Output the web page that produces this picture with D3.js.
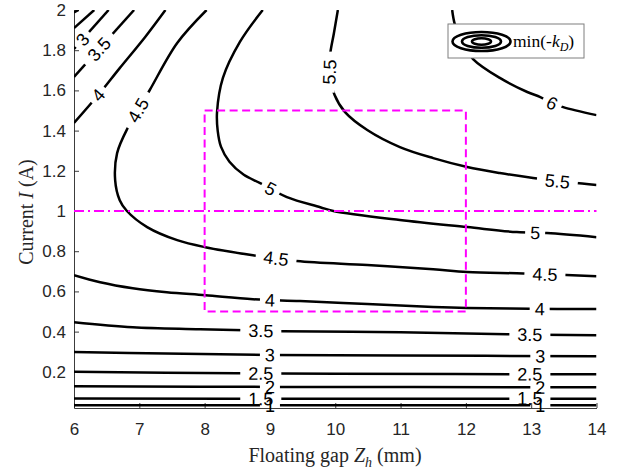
<!DOCTYPE html>
<html>
<head>
<meta charset="utf-8">
<script src="https://cdn.jsdelivr.net/npm/d3@7"></script>
<style>
  body { margin: 0; background: #fff; }
</style>
</head>
<body>
<svg id="chart" width="619" height="475"></svg>
<script>
// contour branches, points are [Z_h (mm), I (A)]
const c1     = [[6,0.034],[10,0.034],[14,0.034]];
const c15    = [[6,0.067],[10,0.066],[14,0.066]];
const c2     = [[6,0.128],[9,0.125],[14,0.123]];
const c2top  = [[6,1.988],[6.07,2.0]];
const c25    = [[6,0.200],[8.5,0.193],[10,0.190],[14,0.188]];
const c25top = [[6,1.910],[6.31,2.0]];
const c3     = [[6,0.299],[7.4,0.291],[9,0.284],[11,0.281],[14,0.278]];
const c3top  = [[6,1.806],[6.53,2.0]];
const c35    = [[6,0.447],[6.9,0.422],[7.93,0.412],[9.19,0.402],[11,0.397],[12.63,0.387],[14,0.382]];
const c35top = [[6,1.667],[6.92,2.0]];
const c4     = [[6,0.681],[6.4,0.646],[6.9,0.616],[7.42,0.596],[8.01,0.581],[8.74,0.561],[9.46,0.552],
                [10.49,0.537],[11.5,0.522],[12.02,0.517],[12.98,0.514],[14,0.512]];
const c4top  = [[6,1.438],[6.37,1.577],[6.7,1.711],[7.09,1.866],[7.4,2.0]];
const c45    = [[8.03,2.0],[7.58,1.836],[7.16,1.602],[6.98,1.502],[6.83,1.418],[6.66,1.288],[6.63,1.154],
                [6.70,1.054],[6.81,1.0],[7.12,0.920],[7.58,0.855],[8.01,0.820],[8.74,0.780],[9.41,0.751],
                [10.49,0.731],[11.5,0.710],[12.02,0.697],[12.88,0.689],[14,0.676]];
const c5     = [[8.89,2.0],[8.54,1.841],[8.28,1.662],[8.19,1.492],[8.20,1.40],[8.25,1.32],[8.38,1.245],
                [8.6,1.180],[8.85,1.139],[9.26,1.069],[9.77,1.019],[9.97,1.0],[10.99,0.955],[12.02,0.920],
                [12.78,0.895],[13.24,0.890],[14,0.870]];
const c55    = [[10.04,2.0],[9.98,1.886],[9.92,1.776],[9.91,1.691],[9.99,1.577],[10.15,1.492],[10.49,1.403],
                [10.99,1.318],[11.5,1.263],[12.02,1.219],[12.52,1.189],[13.03,1.164],[13.4,1.149],[14,1.129]];
const c6     = [[11.79,2.0],[11.83,1.930],[11.94,1.841],[12.11,1.756],[12.52,1.662],[12.94,1.592],
                [13.14,1.567],[13.32,1.537],[13.49,1.517],[14,1.477]];

const branches = [
  {level: 1, pts: c1}, {level: 1.5, pts: c15}, {level: 2, pts: c2}, {level: 2, pts: c2top},
  {level: 2.5, pts: c25}, {level: 2.5, pts: c25top}, {level: 3, pts: c3}, {level: 3, pts: c3top},
  {level: 3.5, pts: c35}, {level: 3.5, pts: c35top}, {level: 4, pts: c4}, {level: 4, pts: c4top},
  {level: 4.5, pts: c45}, {level: 5, pts: c5}, {level: 5.5, pts: c55}, {level: 6, pts: c6}
];

// inline labels: [level, Z, I]
const labels = [
  [3, 6.21, 1.83], [3.5, 6.40, 1.80], [4, 6.37, 1.577], [4.5, 6.98, 1.502],
  [5, 9.0, 1.104], [5.5, 9.91, 1.691], [6, 13.32, 1.537], [5.5, 13.40, 1.147], [5, 13.06, 0.887],
  [4.5, 9.09, 0.754], [4.5, 13.21, 0.684], [4, 9.0, 0.552], [4, 13.13, 0.515],
  [3.5, 8.86, 0.404], [3.5, 12.98, 0.386], [3, 9.0, 0.284], [3, 13.14, 0.279],
  [2.5, 8.86, 0.193], [2.5, 12.98, 0.188], [2, 9.0, 0.125], [2, 13.14, 0.123],
  [1.5, 8.86, 0.067], [1.5, 12.98, 0.066], [1, 9.0, 0.034], [1, 13.14, 0.034]
];

const xTicks = [6, 7, 8, 9, 10, 11, 12, 13, 14];
const yTicks = [0.2, 0.4, 0.6, 0.8, 1, 1.2, 1.4, 1.6, 1.8, 2];
const boxZ = [8, 12];
const boxI = [0.5, 1.5];
const refI = 1;

const svg = d3.select("#chart");
const x = d3.scaleLinear().domain([6, 14]).range([74, 596.5]);
const y = d3.scaleLinear().domain([0.02, 2]).range([408, 10]);

const defs = svg.append("defs");
defs.append("clipPath").attr("id", "plotclip")
  .append("rect").attr("x", 74).attr("y", 10).attr("width", 522.5).attr("height", 398);

// axes (MATLAB style, box off, ticks inward)
const xAxis = svg.append("g")
  .attr("transform", `translate(0,${y(0.02)})`)
  .call(d3.axisBottom(x).tickValues(xTicks).tickFormat(d3.format("d")).tickSizeInner(-5).tickSizeOuter(0).tickPadding(15));
const yAxis = svg.append("g")
  .attr("transform", `translate(${x(6)},0)`)
  .call(d3.axisLeft(y).tickValues(yTicks).tickFormat(d => d3.format("")(+d.toFixed(1))).tickSizeInner(-5).tickSizeOuter(0).tickPadding(8));
[xAxis, yAxis].forEach(g => {
  g.selectAll("path, line").attr("stroke", "#262626").attr("stroke-width", 0.9);
  g.selectAll("text").attr("fill", "#262626").style("font-family", "'Liberation Sans', Arial, sans-serif").style("font-size", "17px");
});

// labels first so the line gaps can be cut out
const lbl = svg.append("g").attr("class", "labels");
const gaps = branches.map(() => []);
labels.forEach(([lev, z, i]) => {
  const px = x(z), py = y(i);
  let best = null;
  branches.forEach((b, bi) => {
    if (b.level !== lev) return;
    const pts = b.pts.map(p => [x(p[0]), y(p[1])]);
    for (let k = 0; k < pts.length - 1; k++) {
      const [ax, ay] = pts[k], [bx, by] = pts[k + 1];
      const dx = bx - ax, dy = by - ay;
      const t = Math.max(0, Math.min(1, ((px - ax) * dx + (py - ay) * dy) / (dx * dx + dy * dy)));
      const qx = ax + t * dx, qy = ay + t * dy;
      const d = (px - qx) ** 2 + (py - qy) ** 2;
      if (!best || d < best.d) best = {d, qx, qy, ang: Math.atan2(dy, dx) * 180 / Math.PI, bi};
    }
  });
  let a = best.ang;
  if (a > 90) a -= 180;
  if (a < -90) a += 180;
  const t = lbl.append("text")
    .attr("transform", `translate(${best.qx},${best.qy}) rotate(${a})`)
    .attr("text-anchor", "middle")
    .attr("dy", "0.36em")
    .style("font-family", "'Liberation Sans', Arial, sans-serif")
    .style("font-size", "18px")
    .attr("fill", "#000")
    .text(lev);
  const w = t.node().getComputedTextLength();
  gaps[best.bi].push({cx: best.qx, cy: best.qy, a, w: w * 1.4 + 6});
});

// contour lines with gaps at labels
const line = d3.line().x(d => x(d[0])).y(d => y(d[1])).curve(d3.curveCatmullRom.alpha(0.5));
const lines = svg.insert("g", ".labels").attr("clip-path", "url(#plotclip)");
branches.forEach((b, bi) => {
  const m = defs.append("mask").attr("id", "gap" + bi).attr("maskUnits", "userSpaceOnUse")
    .attr("x", 0).attr("y", 0).attr("width", 619).attr("height", 475);
  m.append("rect").attr("width", 619).attr("height", 475).attr("fill", "#fff");
  gaps[bi].forEach(g => {
    m.append("rect")
      .attr("x", -g.w / 2).attr("y", -6).attr("width", g.w).attr("height", 12)
      .attr("transform", `translate(${g.cx},${g.cy}) rotate(${g.a})`)
      .attr("fill", "#000");
  });
  lines.append("path")
    .attr("d", line(b.pts))
    .attr("mask", `url(#gap${bi})`)
    .attr("fill", "none")
    .attr("stroke", "#000")
    .attr("stroke-width", 2.5);
});

// magenta reference box and I = 1 line
const ref = svg.insert("g", ".labels");
ref.append("rect")
  .attr("x", x(boxZ[0])).attr("y", y(boxI[1]))
  .attr("width", x(boxZ[1]) - x(boxZ[0])).attr("height", y(boxI[0]) - y(boxI[1]))
  .attr("fill", "none").attr("stroke", "#ff00ff").attr("stroke-width", 2)
  .attr("stroke-dasharray", "8,4.5");
ref.append("line")
  .attr("x1", x(6)).attr("x2", x(14)).attr("y1", y(refI)).attr("y2", y(refI))
  .attr("stroke", "#ff00ff").attr("stroke-width", 2)
  .attr("stroke-dasharray", "10,4,2,4");

// legend
const leg = svg.append("g");
leg.append("rect").attr("x", 448).attr("y", 24).attr("width", 136).attr("height", 34)
  .attr("fill", "#fff").attr("stroke", "#7f7f7f").attr("stroke-width", 1);
[[29, 9.5], [19.5, 6.3], [9.5, 3.2]].forEach(([rx, ry]) => {
  leg.append("ellipse").attr("cx", 481.5).attr("cy", 41.5).attr("rx", rx).attr("ry", ry)
    .attr("fill", "none").attr("stroke", "#000").attr("stroke-width", 2.6);
});
const lt = leg.append("text").attr("x", 513).attr("y", 47)
  .style("font-family", "'Liberation Serif', 'Times New Roman', serif").style("font-size", "17.5px").attr("fill", "#000");
lt.append("tspan").text("min(-");
lt.append("tspan").style("font-style", "italic").text("k");
lt.append("tspan").style("font-style", "italic").style("font-size", "12px").attr("dy", 4).text("D");
lt.append("tspan").attr("dy", -4).text(")");

// axis titles
const xl = svg.append("text").attr("x", 335).attr("y", 462).attr("text-anchor", "middle")
  .style("font-family", "'Liberation Serif', 'Times New Roman', serif").style("font-size", "20px").attr("fill", "#262626");
xl.append("tspan").text("Floating gap ");
xl.append("tspan").style("font-style", "italic").text("Z");
xl.append("tspan").style("font-style", "italic").style("font-size", "14px").attr("dy", 5).text("h");
xl.append("tspan").attr("dy", -5).text(" (mm)");

const yl = svg.append("text").attr("transform", "translate(33,212) rotate(-90)").attr("text-anchor", "middle")
  .style("font-family", "'Liberation Serif', 'Times New Roman', serif").style("font-size", "20px").attr("fill", "#262626");
yl.append("tspan").text("Current ");
yl.append("tspan").style("font-style", "italic").text("I");
yl.append("tspan").text(" (A)");
</script>
</body>
</html>
